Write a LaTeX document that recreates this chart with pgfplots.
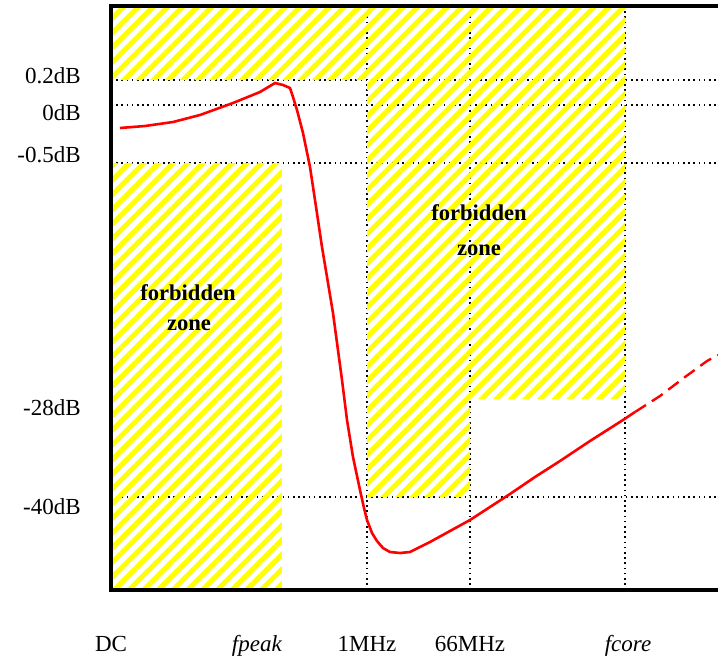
\documentclass[border=0pt]{standalone}
\usepackage{fontspec}
\setmainfont{Liberation Serif}
\usepackage{pgfplots}
\pgfplotsset{compat=1.18}
\usetikzlibrary{patterns.meta}
\begin{document}
\begin{tikzpicture}
\begin{axis}[
  name=ax, at={(0,0)}, anchor=south west,
  width=303.5pt, height=292pt, scale only axis,
  xmin=111, xmax=718, ymin=-590, ymax=-6,
  clip=false,
  axis line style={draw=none},
  major tick length=0pt,
  xtick={111,257,367,470,628},
  xticklabels={DC,\textit{fpeak},1MHz,66MHz,\textit{fcore}},
  ytick={-507,-408,-155,-113,-76},
  yticklabels={-40dB,-28dB,-0.5dB,0dB,0.2dB},
  xticklabel style={anchor=base, inner sep=0pt, yshift=-30.5pt, font=\fontsize{11.5}{13}\selectfont},
  yticklabel style={anchor=east, inner sep=0pt, xshift=-15pt, font=\fontsize{11.5}{13}\selectfont},
  extra x ticks={367,470,625},
  extra x tick labels={},
  extra y ticks={-497,-163,-105,-80},
  extra y tick labels={},
  extra tick style={grid=major, major grid style={black, line width=0.8pt, dash pattern=on 0.8pt off 1.8pt}},
]
% hatched forbidden zones
\addplot[draw=none, pattern={Lines[angle=45, distance=5.2pt, line width=2.5pt]}, pattern color=yellow, forget plot]
  coordinates {(111,-6) (625,-6) (625,-399) (470,-399) (470,-497) (367,-497) (367,-80) (111,-80)} -- cycle;
\addplot[draw=none, pattern={Lines[angle=45, distance=5.2pt, line width=2.5pt]}, pattern color=yellow, forget plot]
  coordinates {(111,-163) (282,-163) (282,-590) (111,-590)} -- cycle;
% response curve
\addplot[red, line width=1.3pt] coordinates {
(120,-128) (145,-126) (173,-122) (200,-115) (233,-103) (260,-92) (270,-86) (275,-83) (283,-85) (290,-88)
(293,-97) (297,-110) (303,-133) (310,-167) (315,-200) (322,-247) (333,-313)
(342,-380) (347,-420) (353,-457) (360,-490) (364,-508) (367,-520) (372,-533) (377,-541)
(383,-548) (390,-552) (400,-553) (410,-552) (420,-547) (430,-542) (450,-531) (470,-520)
(490,-507) (510,-494) (535,-477) (560,-461) (590,-441) (623,-420) (635,-412)};
\addplot[red, line width=1.2pt, dash pattern=on 6.5pt off 3.5pt] coordinates {
(635,-412) (660,-396) (685,-377) (707,-361) (718,-355)};
% labels
\node[font=\fontsize{11.3}{12}\selectfont\bfseries] at (axis cs:188,-293) {forbidden};
\node[font=\fontsize{11.3}{12}\selectfont\bfseries] at (axis cs:189,-325) {zone};
\node[font=\fontsize{11.3}{12}\selectfont\bfseries] at (axis cs:479,-213) {forbidden};
\node[font=\fontsize{11.3}{12}\selectfont\bfseries] at (axis cs:479,-250) {zone};
% frame (left, top, bottom)
\draw[black, line width=1.9pt] (rel axis cs:1,1) -- (rel axis cs:0,1) -- (rel axis cs:0,0) -- (rel axis cs:1,0);
\end{axis}
\pgfresetboundingbox
\useasboundingbox (-55.5pt,-35pt) rectangle (303.5pt,295pt);
\end{tikzpicture}
\end{document}
